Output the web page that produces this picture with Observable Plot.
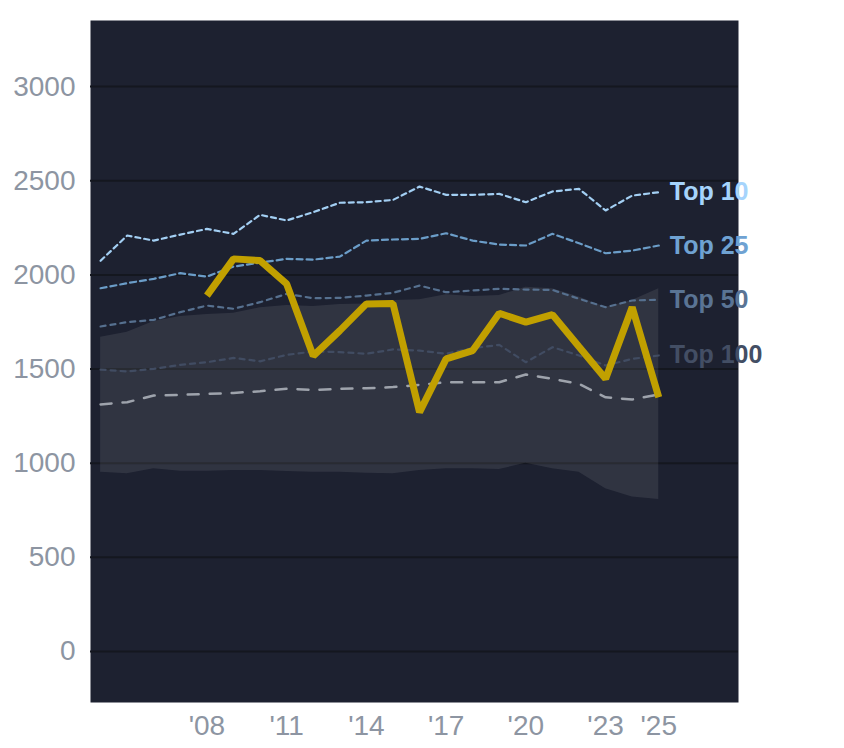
<!DOCTYPE html>
<html><head><meta charset="utf-8">
<script src="https://cdn.jsdelivr.net/npm/d3@7"></script>
<script src="https://cdn.jsdelivr.net/npm/@observablehq/plot@0.6"></script>
<style>body{margin:0;background:#fff;}</style>
</head><body><div id="chart"></div>
<script>
const years = d3.range(2004, 2026);
const highlight = [null,null,null,null,1890,2085,2076,1952,1570,1704,1846,1848,1271,1554,1598,1796,1749,1789,1618,1448,1828,1350];
const top10  = [2075,2209,2182,2214,2244,2218,2319,2289,2333,2383,2386,2398,2469,2425,2425,2430,2386,2443,2457,2342,2421,2439];
const top25  = [1929,1956,1979,2009,1991,2044,2065,2085,2081,2097,2182,2188,2191,2221,2182,2161,2156,2218,2168,2115,2129,2156];
const top50  = [1726,1749,1761,1802,1837,1820,1855,1899,1876,1878,1890,1905,1943,1908,1917,1926,1922,1920,1873,1828,1864,1868];
const top100 = [1497,1487,1501,1522,1536,1559,1541,1575,1593,1590,1581,1604,1598,1581,1611,1628,1536,1616,1572,1519,1554,1572];
const median = [1312,1324,1359,1363,1368,1373,1382,1395,1389,1395,1398,1404,1416,1430,1430,1430,1471,1448,1421,1350,1338,1365];
const bandHi = [1669,1696,1752,1779,1789,1796,1825,1837,1832,1843,1846,1864,1868,1894,1885,1890,1934,1926,1882,1828,1864,1926];
const bandLo = [952,944,970,957,957,961,961,956,952,952,947,944,961,970,970,966,1000,970,952,864,820,807];
const yTicks = [0,500,1000,1500,2000,2500,3000];
const xTicks = [2008,2011,2014,2017,2020,2023,2025];
const tierNames = ["Top 10","Top 25","Top 50","Top 100"];
const tierColors = ["#a3cff3","#6b9dc8","#56708f","#414c62"];
const tierLabelColors = ["#a6d4fc","#6fa2d2","#5a7494","#434e64"];
const tierDash = ["5,4","6,4","5,5","5,5"];

const rows = years.map((year,i)=>({year, hl: highlight[i], t10: top10[i], t25: top25[i], t50: top50[i], t100: top100[i], med: median[i], hi: bandHi[i], lo: bandLo[i]}));
const tierKeys = ["t10","t25","t50","t100"];
const last = rows[rows.length-1];

const tierLines = tierKeys.map((k,j)=>Plot.line(rows,{x:"year",y:k,stroke:tierColors[j],strokeWidth:2.2,strokeDasharray:tierDash[j]})).reverse();
const labels = Plot.text(tierKeys.map((k,j)=>({year:last.year, v:last[k], name:tierNames[j], c:tierLabelColors[j]})),
  {x:"year", y:"v", text:"name", fill:"c", dx:11, textAnchor:"start", fontWeight:"bold", fontSize:25});

const chart = Plot.plot({
  width: 844, height: 748,
  marginLeft: 90, marginRight: 106, marginTop: 20, marginBottom: 46,
  style: {background:"transparent", fontFamily:"'Liberation Sans', Arial, sans-serif", fontSize:"28px"},
  x: {domain:[2003.62, 2028], axis:null, label:null},
  y: {domain:[-271, 3351], axis:null, label:null},
  marks: [
    Plot.frame({fill:"#1d2130", stroke:null}),
    Plot.ruleY(yTicks, {stroke:"#14171f", strokeWidth:2}),
    Plot.areaY(rows, {x:"year", y1:"lo", y2:"hi", fill:"white", fillOpacity:0.085}),
    ...tierLines,
    Plot.line(rows, {x:"year", y:"med", stroke:"#9ea3ac", strokeWidth:2.5, strokeDasharray:"11,11"}),
    Plot.line(rows.filter(d=>d.hl!=null), {x:"year", y:"hl", stroke:"#c1a000", strokeWidth:7, strokeLinejoin:"miter", strokeLinecap:"butt"}),
    labels,
    Plot.axisY(yTicks, {tickSize:0, tickPadding:15, color:"#8d95a2", fontSize:28, label:null, tickFormat:d=>String(d)}),
    Plot.axisX(xTicks, {tickSize:0, tickPadding:13, color:"#8d95a2", fontSize:28, label:null, tickFormat:d=>"'"+String(d).slice(2)})
  ]
});
document.getElementById("chart").appendChild(chart);
</script></body></html>
